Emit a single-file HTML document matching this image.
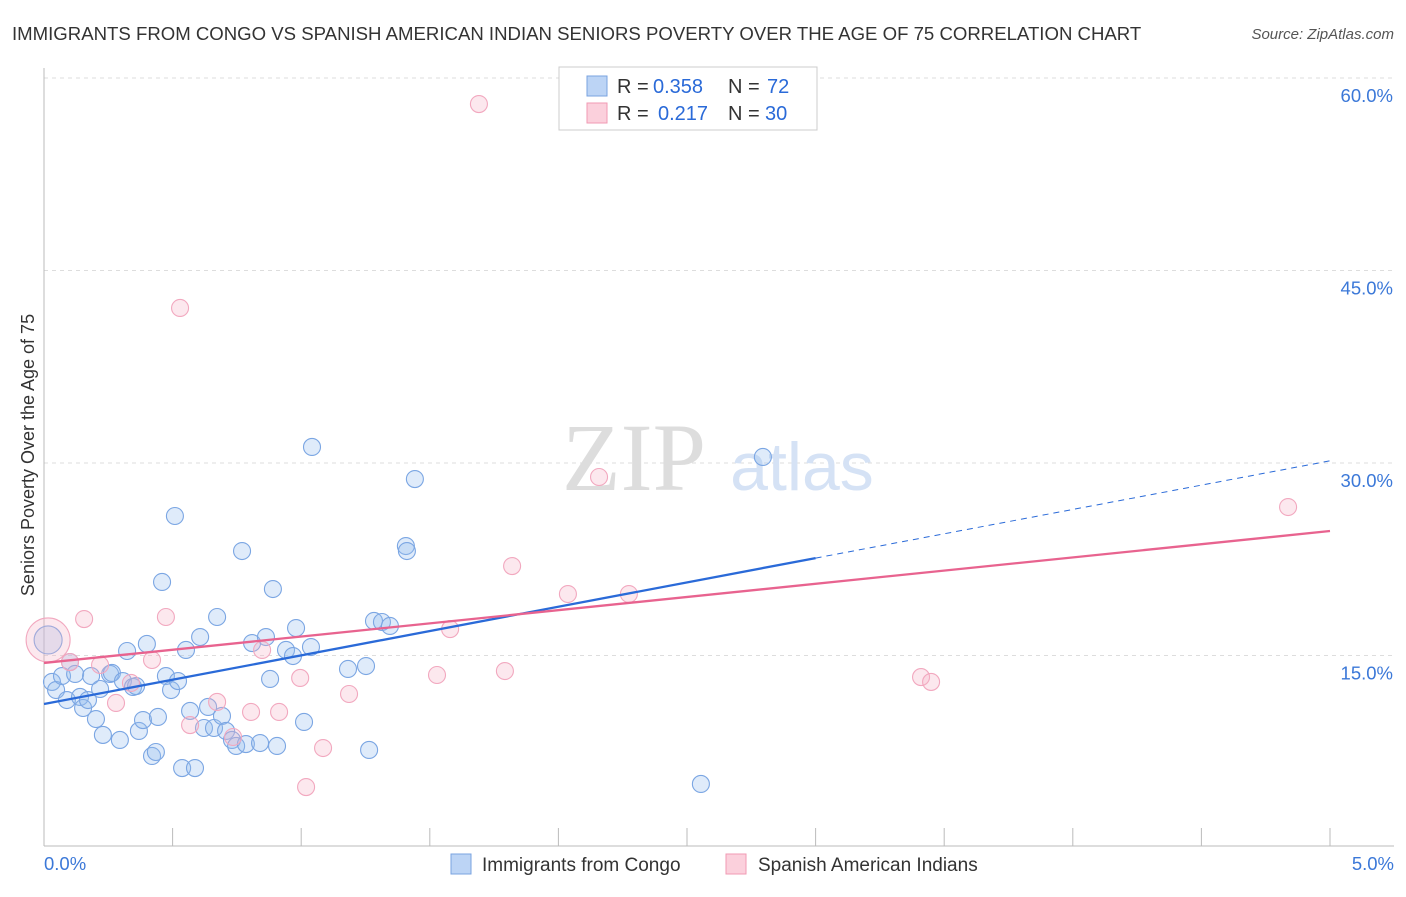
<!DOCTYPE html>
<html><head><meta charset="utf-8"><style>
body{margin:0;background:#fff;font-family:"Liberation Sans",sans-serif}
</style></head><body>
<svg width="1406" height="892" viewBox="0 0 1406 892" xmlns="http://www.w3.org/2000/svg" font-family="Liberation Sans, sans-serif">
<text x="12" y="40" font-size="18.6" fill="#333">IMMIGRANTS FROM CONGO VS SPANISH AMERICAN INDIAN SENIORS POVERTY OVER THE AGE OF 75 CORRELATION CHART</text>
<text x="1394" y="39" font-size="15" fill="#555" font-style="italic" text-anchor="end">Source: ZipAtlas.com</text>
<g id="grid"></g>
<text x="634" y="490" font-size="96" fill="#ddd" font-family="Liberation Serif, serif" text-anchor="middle">ZIP</text>
<text x="802" y="490" font-size="68" fill="#d5e2f5" text-anchor="middle">atlas</text>
<text transform="translate(34,455) rotate(-90)" font-size="18" fill="#333" text-anchor="middle">Seniors Poverty Over the Age of 75</text>
<g id="pts"></g>
<g id="lines"></g>
<g>
<rect x="559" y="67" width="258" height="63" fill="#fff" stroke="#ccc"/>
<rect x="587" y="76" width="20" height="20" fill="#bcd4f5" stroke="#7aa3e0"/>
<rect x="587" y="103" width="20" height="20" fill="#fbd0dc" stroke="#f09ab3"/>
<text x="617" y="93" font-size="20" fill="#333">R =</text>
<text x="653" y="93" font-size="20" fill="#2a6ad8">0.358</text>
<text x="728" y="93" font-size="20" fill="#333">N =</text>
<text x="767" y="93" font-size="20" fill="#2a6ad8">72</text>
<text x="617" y="120" font-size="20" fill="#333">R =</text>
<text x="658" y="120" font-size="20" fill="#2a6ad8">0.217</text>
<text x="728" y="120" font-size="20" fill="#333">N =</text>
<text x="765" y="120" font-size="20" fill="#2a6ad8">30</text>
</g>
<g>
<rect x="451" y="854" width="20" height="20" fill="#bcd4f5" stroke="#7aa3e0"/>
<text x="482" y="871" font-size="19" fill="#333">Immigrants from Congo</text>
<rect x="726" y="854" width="20" height="20" fill="#fbd0dc" stroke="#f09ab3"/>
<text x="758" y="871" font-size="19" fill="#333">Spanish American Indians</text>
</g>
</svg>
<script>
const xTicks=[0,0.5,1,1.5,2,2.5,3,3.5,4,4.5,5];
const yTicks=[15,30,45,60];
const yTickLabels=["15.0%","30.0%","45.0%","60.0%"];
const xEndLabels=["0.0%","5.0%"];
const congoX=[.016,.031,.047,.070,.089,.101,.121,.140,.152,.171,.183,.202,.218,.229,.257,.264,.295,.307,.323,.346,.358,.369,.385,.400,.420,.435,.443,.459,.474,.494,.509,.521,.537,.552,.568,.587,.607,.622,.638,.661,.673,.692,.708,.731,.747,.770,.785,.809,.840,.863,.879,.890,.906,.941,.968,.980,1.011,1.038,1.042,1.182,1.252,1.264,1.283,1.314,1.345,1.407,1.411,1.442,2.554,2.795];
const congoY=[16.21,12.94,12.31,13.40,11.53,14.49,13.56,11.77,10.91,11.53,13.40,10.05,12.39,8.81,13.56,13.64,8.42,13.01,15.35,12.55,12.62,9.12,9.97,15.90,7.17,7.48,10.21,20.73,13.40,12.31,25.87,13.01,6.23,15.43,10.68,6.23,16.44,9.35,10.99,9.35,18.00,10.29,9.12,8.42,7.95,23.14,8.10,15.97,8.18,16.44,13.17,20.18,7.95,15.43,14.96,17.14,9.82,15.66,31.25,13.95,14.18,7.64,17.69,17.61,17.30,23.53,23.14,28.75,4.99,30.47];
const spanX=[.016,.101,.156,.218,.280,.338,.420,.474,.529,.568,.673,.735,.805,.848,.914,.996,1.019,1.085,1.186,1.528,1.579,1.691,1.792,1.820,2.037,2.158,2.274,3.410,3.449,4.837];
const spanY=[16.21,14.49,17.84,14.26,11.30,12.86,14.65,18.00,42.08,9.58,11.38,8.65,10.60,15.43,10.60,13.25,4.75,7.79,12.00,13.48,17.06,57.97,13.79,21.97,19.79,28.91,19.79,13.32,12.94,26.57];
const congoTrend=[11.22,3.79];
const spanTrend=[14.42,2.056];
const NS="http://www.w3.org/2000/svg";
const X=v=>44+v/5*1286;
const Y=v=>848-v/15*192.5;
function mk(tag,attrs,parent){const e=document.createElementNS(NS,tag);for(const k in attrs)e.setAttribute(k,attrs[k]);parent.appendChild(e);return e;}
const g=document.getElementById('grid');
yTicks.forEach((t,i)=>{
 const l=mk('line',{x1:44,x2:1394,y1:Y(t),y2:Y(t),stroke:'#ddd','stroke-dasharray':'4,4'},g);
 
 
 const tx=mk('text',{x:1393,y:Y(t)+24,'font-size':18.5,fill:'#3b78d8','text-anchor':'end'},g);
 tx.textContent=yTickLabels[i];
 
 
});
const ax=mk('line',{x1:44,x2:44,y1:68,y2:846,stroke:'#bbb'},g);


const bx=mk('line',{x1:44,x2:1394,y1:846,y2:846,stroke:'#bbb'},g);


xTicks.forEach(t=>{
 const l=mk('line',{x1:X(t),x2:X(t),y1:828,y2:846,stroke:'#bbb'},g);
 
 
});
[[0,'start',44],[5,'end',1394]].forEach((a,i)=>{
 const tx=mk('text',{x:a[2],y:870,'font-size':18.5,fill:'#3b78d8','text-anchor':a[1]},g);
 tx.textContent=xEndLabels[i];
 
 
});
const p=document.getElementById('pts');
congoX.forEach((v,i)=>{
 const c=mk('circle',{cx:X(v),cy:Y(congoY[i]),r:i===0?14:8.5,fill:'rgba(150,188,238,0.3)',stroke:'#7ba6e3','stroke-width':1.1},p);
 
 
});
spanX.forEach((v,i)=>{
 const c=mk('circle',{cx:X(v),cy:Y(spanY[i]),r:i===0?22:8.5,fill:'rgba(246,178,200,0.3)',stroke:'#f2a8bf','stroke-width':1.1},p);
 
 
});
const L=document.getElementById('lines');
const f=(t,x)=>t[0]+t[1]*x;
const b1=mk('line',{x1:X(0),y1:Y(f(congoTrend,0)),x2:X(3),y2:Y(f(congoTrend,3)),stroke:'#2a6ad8','stroke-width':2.3},L);


const b2=mk('line',{x1:X(3),y1:Y(f(congoTrend,3)),x2:X(5),y2:Y(f(congoTrend,5)),stroke:'#2a6ad8','stroke-width':1,'stroke-dasharray':'6,5'},L);


const pl=mk('line',{x1:X(0),y1:Y(f(spanTrend,0)),x2:X(5),y2:Y(f(spanTrend,5)),stroke:'#e8638f','stroke-width':2.3},L);


</script>
</body></html>
